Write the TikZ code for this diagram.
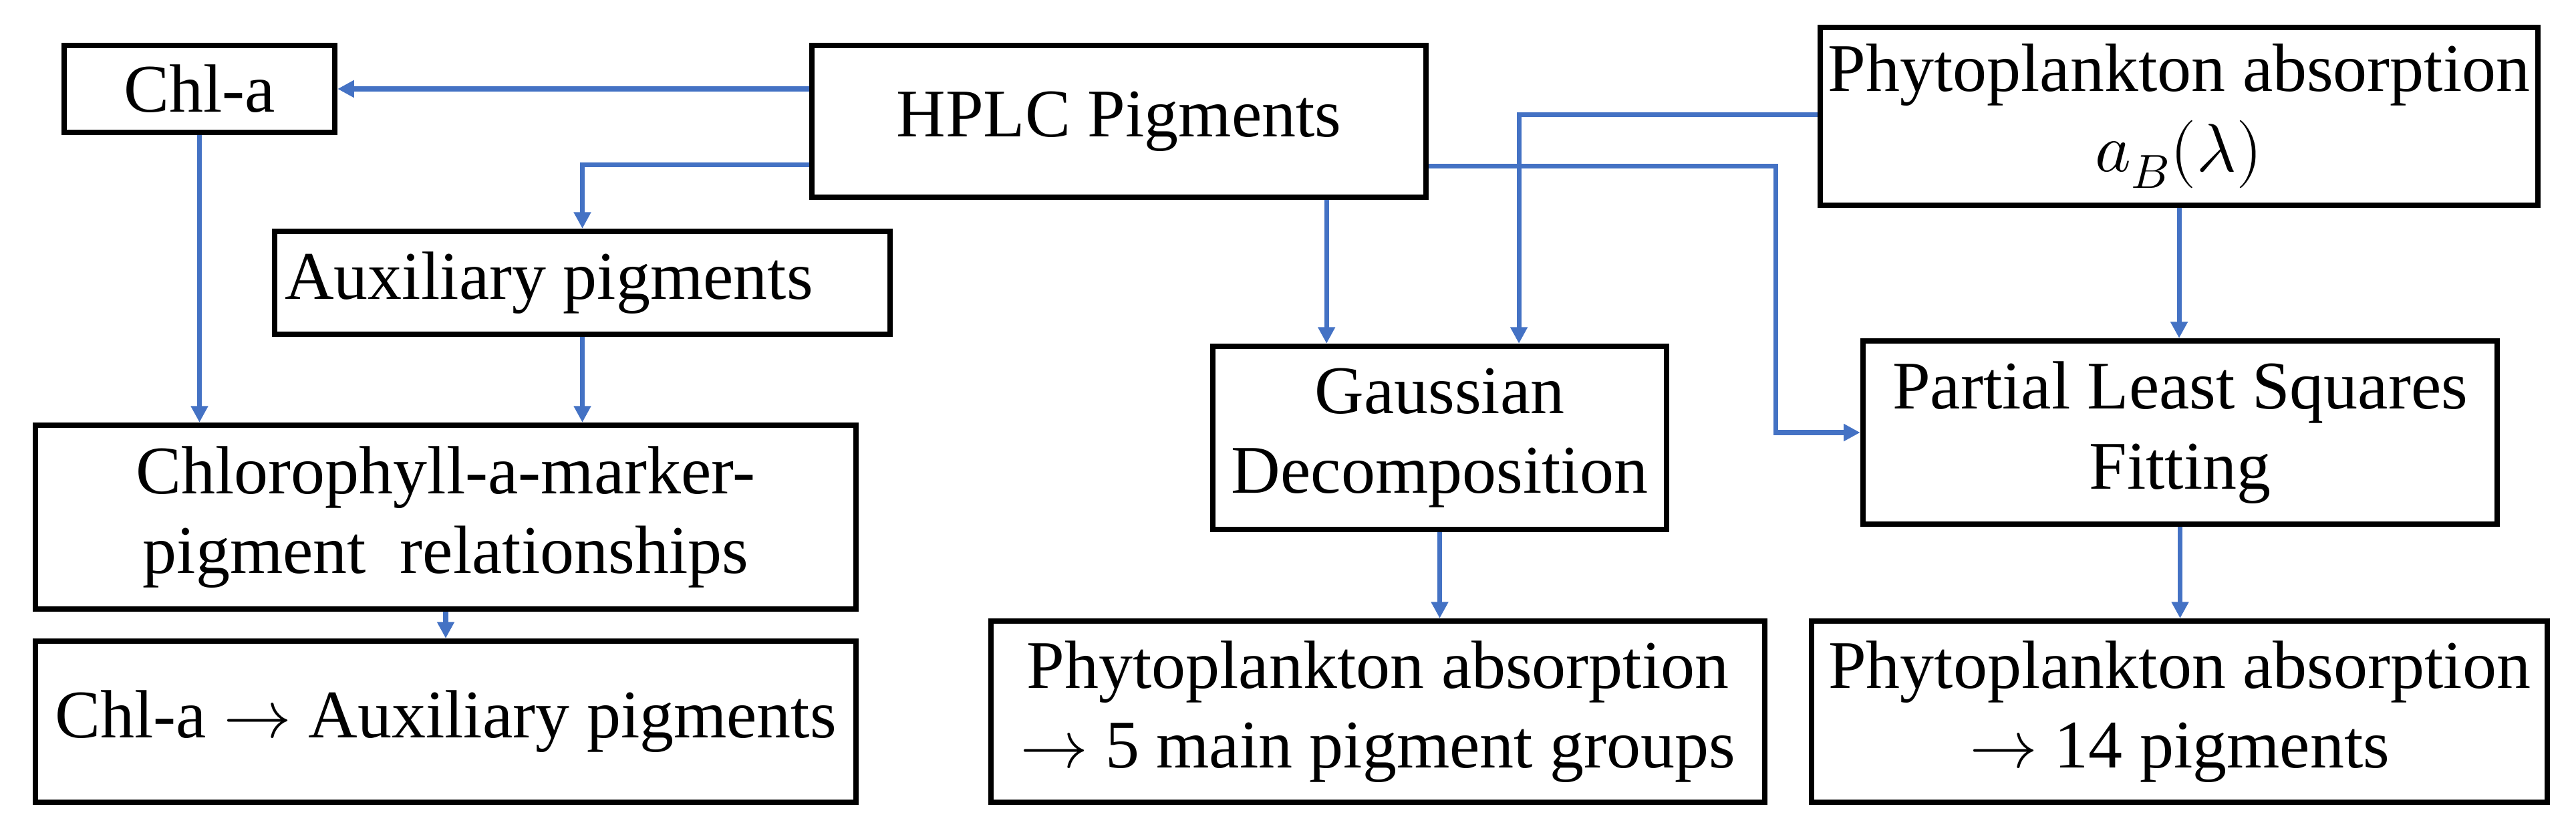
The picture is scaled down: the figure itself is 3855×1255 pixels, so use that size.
\documentclass[tikz,border=0pt]{standalone}
\usepackage{unicode-math}
\setmainfont{Liberation Serif}
\setmathfont{Latin Modern Math}
\usetikzlibrary{arrows.meta,calc}
\definecolor{arrblue}{HTML}{4472C4}

\begin{document}
\begin{tikzpicture}[x=0.01cm,y=-0.01cm,
		box/.style={draw,line width=2.3pt,inner sep=0pt,align=center,font=\fontsize{29}{34}\selectfont},
		arr/.style={draw=arrblue,line width=2pt,-{Triangle[length=7pt,width=7pt]}}]
				\useasboundingbox (0,0) rectangle (3855,1255);
				\node[box,minimum width=4.05cm,minimum height=1.3cm] (chla) at (298.5,133) {Chl-a};
				\node[box,minimum width=9.19cm,minimum height=2.27cm] (hplc) at (1674.5,181.5) {HPLC Pigments};
				\node[box,minimum width=9.21cm,minimum height=1.54cm] (aux) at (871.5,423) {Auxiliary pigments\hspace{1cm}};
				\node[box,minimum width=12.28cm,minimum height=2.75cm] (rel) at (667,773.5) {Chlorophyll-a-marker-\\pigment\ \ relationships};
				\node[box,minimum width=12.28cm,minimum height=2.41cm] (chlaux) at (667,1079.5) {Chl-a $\rightarrow$ Auxiliary pigments};
				\node[box,minimum width=6.79cm,minimum height=2.74cm] (gauss) at (2154.5,655) {Gaussian\\Decomposition};
				\node[box,minimum width=11.58cm,minimum height=2.71cm] (five) at (2062,1064.5) {Phytoplankton absorption\\$\rightarrow$ 5 main pigment groups};
				\node[box,minimum width=10.74cm,minimum height=2.66cm] (phyto) at (3261,174) {Phytoplankton absorption\\$a_B(\lambda)$};
				\node[box,minimum width=9.49cm,minimum height=2.74cm] (pls) at (3262.5,647) {Partial Least Squares\\Fitting};
				\node[box,minimum width=11.01cm,minimum height=2.71cm] (fourteen) at (3261.5,1064.5) {Phytoplankton absorption\\$\rightarrow$ 14 pigments};
				\coordinate (bend) at ([xshift=-1.26cm]pls.west);
				% left branch
				\draw[arr] (hplc.west |- chla.east) -- (chla.east);
				\draw[arr] ([yshift=-0.645cm]hplc.west) -| (aux.north);
				\draw[arr] (chla.south) -- (chla.south |- rel.north);
				\draw[arr] (aux.south) -- (aux.south |- rel.north);
				\draw[arr] (rel.south) -- (rel.south |- chlaux.north);
				% right branch
				\draw[arr] ([xshift=3.105cm]hplc.south) -- ([xshift=3.105cm]hplc.south |- gauss.north);
				\draw[arr] ([yshift=0.025cm]phyto.west) -| ([xshift=1.185cm]gauss.north);
				\draw[arr] ([yshift=-0.665cm]hplc.east) -| (bend) -- (pls.west);
				\draw[arr] (phyto.south) -- (phyto.south |- pls.north);
				\draw[arr] (gauss.south) -- (gauss.south |- five.north);
				\draw[arr] (pls.south) -- (pls.south |- fourteen.north);
\end{tikzpicture}
\end{document}
